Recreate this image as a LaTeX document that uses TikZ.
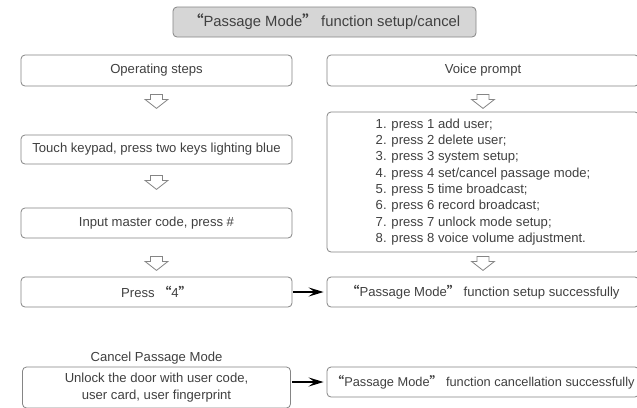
\documentclass[tikz,border=0pt]{standalone}
\usepackage{fontspec}
\setmainfont{Liberation Sans}
\newfontfamily\cjkq{Noto Sans CJK SC}
\usetikzlibrary{arrows.meta,calc}
\newcommand\myql{{\cjkq\bfseries “}}
\newcommand\myqr{{\cjkq\bfseries ”}}
\definecolor{boxline}{HTML}{858585}
\definecolor{txt}{HTML}{404040}
\definecolor{titlefill}{HTML}{D6D6D6}
\tikzset{
  box/.style={draw=boxline, line width=0.8pt, rounded corners=4pt, text=txt,
    font=\fontsize{13.1}{16.3}\selectfont, inner sep=0pt, align=center},
  titlebox/.style={box, fill=titlefill, font=\fontsize{14.8}{18}\selectfont},
  bold arrow/.style={draw=black, line width=2.8pt,
    -{Stealth[length=15pt,width=9pt,inset=6pt]}},
  hollow/.style={draw=boxline, line width=0.8pt, fill=white, line join=miter},
  harrow/.pic={\draw[hollow] (-6,-7) -- (6,-7) -- (6,-2) -- (11.5,-2) -- (0,7) -- (-11.5,-2) -- (-6,-2) -- cycle;}
}
\begin{document}
\begin{tikzpicture}[x=1pt,y=-1pt]
\useasboundingbox (0,0) rectangle (637,407);
\fill[white] (0,0) rectangle (637,407);
\clip (0,0) rectangle (637,407);

\node[titlebox, minimum width=303pt, minimum height=30pt] (title) at (324.5,22) {\myql Passage Mode\myqr\ function setup/cancel};

\node[box, minimum width=271pt, minimum height=31pt] (op) at (156.5,70.5) {Operating steps};
\node[box, minimum width=312pt, minimum height=31pt] (vp) at (483,70.5) {Voice prompt};

\node[box, minimum width=271pt, minimum height=29pt] (touch) at (156.5,149.5) {Touch keypad, press two keys lighting blue};
\node[box, minimum width=312pt, minimum height=140pt, align=left] (list) at (483,182) {1. press 1 add user;\\
2. press 2 delete user;\\
3. press 3 system setup;\\
4. press 4 set/cancel passage mode;\\
5. press 5 time broadcast;\\
6. press 6 record broadcast;\\
7. press 7 unlock mode setup;\\
8. press 8 voice volume adjustment.};

\node[box, minimum width=271pt, minimum height=30pt] (input) at (156.5,223) {Input master code, press \#};

\node[box, minimum width=271pt, minimum height=30pt] (press) at (156.5,292) {Press \myql 4\myqr};
\node[box, minimum width=312pt, minimum height=30pt] (setup) at (483,292) {\myql Passage Mode\myqr\ function setup successfully};

\node[text=txt, font=\fontsize{13.1}{16.3}\selectfont, inner sep=0pt] (cancel) at (156.5,358) {Cancel Passage Mode};
\node[box, minimum width=268pt, minimum height=41pt] (unlock) at (156.5,387.5) {Unlock the door with user code,\\user card, user fingerprint};
\node[box, minimum width=312pt, minimum height=30pt, font=\fontsize{12.8}{16}\selectfont] (res) at (483,382) {\myql Passage Mode\myqr\ function cancellation successfully};

\pic at ($(op.south)+(0,15)$) {harrow};
\pic at ($(touch.south)+(0,18)$) {harrow};
\pic at ($(input.south)+(0,25)$) {harrow};
\pic at ($(vp.south)+(0,15)$) {harrow};
\pic at ($(list.south)+(0,11)$) {harrow};

\draw[bold arrow, shorten <=1pt, shorten >=3pt] (press.east) -- (setup.west);
\draw[bold arrow, shorten <=1pt, shorten >=3pt] (unlock.east |- res.west) -- (res.west);
\end{tikzpicture}
\end{document}
